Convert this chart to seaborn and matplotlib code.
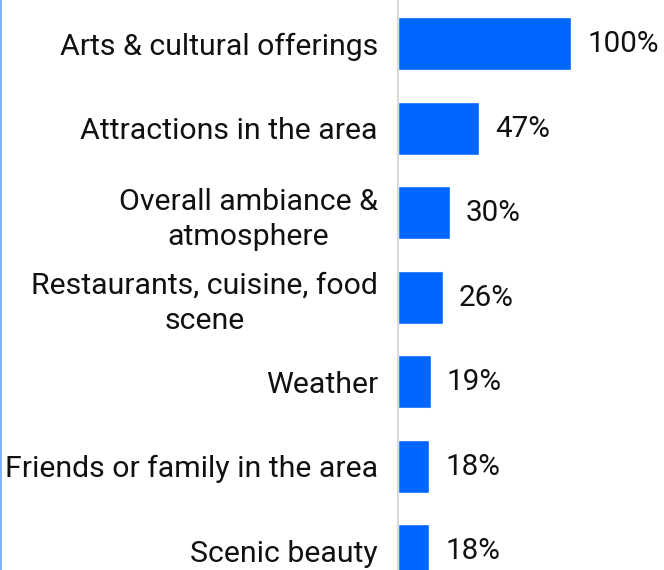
import matplotlib
matplotlib.use("Agg")
import matplotlib.pyplot as plt
import seaborn as sns
import pandas as pd
from matplotlib.lines import Line2D

categories = [
    "Arts & cultural offerings",
    "Attractions in the area",
    "Overall ambiance &\natmosphere",
    "Restaurants, cuisine, food\nscene",
    "Weather",
    "Friends or family in the area",
    "Scenic beauty",
]
values = [100, 47, 30, 26, 19, 18, 18]
value_labels = ["100%", "47%", "30%", "26%", "19%", "18%", "18%"]

sns.set_theme(style="white")
plt.rcParams["font.family"] = ["Roboto", "DejaVu Sans"]

df = pd.DataFrame({"reason": categories, "share": values})

fig = plt.figure(figsize=(6.64, 5.70), dpi=100)
ax = fig.add_axes([398 / 664, 0, 266 / 664, 1])

sns.barplot(data=df, x="share", y="reason", color="#0066ff", saturation=1,
            width=0.627, ax=ax, orient="h")

ax.set_xlim(0, 100 * 266 / 173)
ax.set_ylim(6.23, -0.515)

for i, (v, lab) in enumerate(zip(values, value_labels)):
    ax.text(v + 9.3, i + 0.01, lab, va="center", ha="left", fontsize=21.3, color="#111111")

ax.set_xlabel("")
ax.set_ylabel("")
ax.set_xticks([])
ax.tick_params(axis="y", length=0, pad=14.4, labelsize=21.8, labelcolor="#111111")
for lbl in ax.get_yticklabels():
    lbl.set_multialignment("center")
    lbl.set_linespacing(1.33)

for s in ["top", "right", "bottom"]:
    ax.spines[s].set_visible(False)
ax.spines["left"].set_color("#d9d9d9")
ax.spines["left"].set_linewidth(1.5)

fig.add_artist(Line2D([0.75 / 664, 0.75 / 664], [0, 1], transform=fig.transFigure,
                      color="#6aa6ff", linewidth=1.2))

fig.savefig("out.png", dpi=100)
